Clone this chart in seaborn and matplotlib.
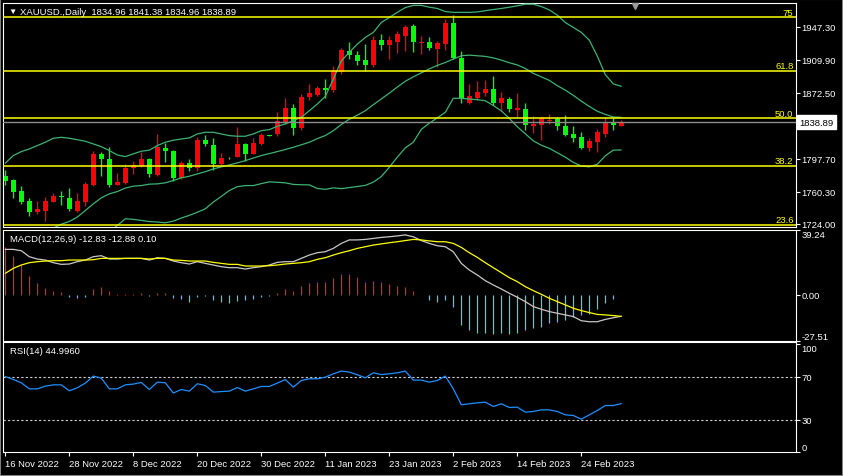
import numpy as np
import pandas as pd
import matplotlib
matplotlib.use("Agg")
import matplotlib.pyplot as plt
from matplotlib.patches import Rectangle
import seaborn as sns

# daily bars 16 Nov 2022 .. 3 Mar 2023
dates = pd.bdate_range("2022-11-16", periods=78)

open_ = [1778.0, 1773.8, 1761.0, 1750.0, 1736.8, 1739.0, 1749.2, 1755.7, 1753.4, 1739.0,
         1749.2, 1768.1, 1803.2, 1797.5, 1768.1, 1770.7, 1786.9, 1789.3, 1797.5, 1779.4,
         1809.6, 1806.6, 1776.0, 1793.0, 1787.3, 1819.0, 1813.7, 1791.9, 1798.6, 1800.1,
         1814.5, 1803.2, 1814.5, 1824.0, 1825.8, 1839.0, 1855.2, 1832.6, 1867.3, 1869.9,
         1877.5, 1875.6, 1895.6, 1919.3, 1915.1, 1909.5, 1904.2, 1932.1, 1926.8, 1930.2,
         1937.0, 1947.6, 1929.0, 1929.5, 1921.9, 1927.6, 1951.3, 1911.7, 1860.9, 1866.2,
         1872.5, 1876.7, 1860.9, 1865.4, 1853.3, 1854.1, 1834.8, 1836.0, 1840.8, 1842.8,
         1834.8, 1825.8, 1822.0, 1810.0, 1817.1, 1825.8, 1838.6, 1834.96]
high = [1785.0, 1774.5, 1767.3, 1753.4, 1750.0, 1754.5, 1758.7, 1761.7, 1764.7, 1759.4,
        1771.1, 1806.2, 1805.8, 1810.7, 1781.7, 1791.5, 1795.6, 1805.1, 1799.0, 1825.8,
        1815.6, 1807.3, 1795.3, 1797.5, 1822.0, 1824.7, 1820.9, 1804.3, 1800.0, 1834.0,
        1815.6, 1820.9, 1826.9, 1824.6, 1851.0, 1866.5, 1859.7, 1871.0, 1882.3, 1880.4,
        1888.0, 1903.0, 1922.7, 1930.0, 1920.0, 1927.6, 1937.0, 1938.9, 1936.3, 1942.7,
        1949.1, 1950.2, 1936.3, 1935.2, 1931.3, 1955.9, 1960.4, 1919.3, 1882.3, 1885.7,
        1886.9, 1891.0, 1873.0, 1868.0, 1872.2, 1860.5, 1846.5, 1844.7, 1848.4, 1844.7,
        1847.3, 1834.5, 1827.7, 1821.3, 1831.4, 1844.7, 1844.7, 1841.38]
low = [1768.0, 1753.7, 1746.6, 1732.7, 1735.3, 1726.6, 1748.5, 1745.5, 1739.0, 1737.2,
       1744.7, 1766.6, 1778.6, 1765.4, 1767.4, 1769.0, 1780.5, 1788.0, 1777.5, 1778.6,
       1794.5, 1772.3, 1774.9, 1784.3, 1784.3, 1811.9, 1785.0, 1790.7, 1797.5, 1799.4,
       1795.6, 1802.8, 1813.7, 1823.2, 1823.9, 1837.1, 1825.0, 1830.7, 1864.6, 1868.4,
       1866.5, 1873.6, 1893.7, 1910.6, 1903.8, 1897.4, 1901.2, 1921.2, 1910.6, 1917.4,
       1920.0, 1918.9, 1916.3, 1921.2, 1901.2, 1921.2, 1910.6, 1860.9, 1860.1, 1864.6,
       1869.1, 1858.6, 1852.1, 1851.0, 1844.7, 1830.7, 1826.9, 1819.0, 1837.1, 1830.3,
       1823.5, 1816.4, 1808.8, 1806.6, 1805.1, 1822.7, 1830.7, 1834.96]
close = [1773.0, 1760.5, 1749.2, 1737.9, 1741.0, 1750.0, 1755.3, 1753.8, 1741.3, 1750.0,
         1769.2, 1803.2, 1797.5, 1768.1, 1771.5, 1787.3, 1790.7, 1797.5, 1780.5, 1811.1,
         1806.6, 1776.0, 1793.0, 1787.3, 1819.0, 1814.5, 1791.9, 1798.6, 1798.0, 1814.5,
         1803.2, 1815.6, 1825.0, 1823.4, 1840.8, 1855.2, 1832.6, 1868.0, 1872.2, 1877.5,
         1875.6, 1897.4, 1920.8, 1915.5, 1908.7, 1904.2, 1932.1, 1926.8, 1932.1, 1938.9,
         1946.5, 1929.5, 1929.6, 1923.0, 1928.7, 1951.3, 1911.7, 1866.2, 1868.8, 1873.3,
         1877.0, 1860.9, 1866.5, 1854.1, 1855.6, 1836.0, 1837.1, 1843.5, 1842.0, 1834.8,
         1824.7, 1821.3, 1810.0, 1817.9, 1827.7, 1838.6, 1836.3, 1838.89]

bb_upper = [1792.7, 1801.3, 1805.8, 1808.8, 1812.6, 1816.4, 1820.9, 1822.0, 1820.9, 1819.3,
            1817.5, 1814.5, 1811.4, 1806.9, 1802.0, 1800.1, 1803.2, 1806.2, 1807.4, 1812.6,
            1816.4, 1818.7, 1820.1, 1821.3, 1825.8, 1827.7, 1827.7, 1825.8, 1823.9, 1823.2,
            1823.2, 1825.8, 1829.5, 1830.7, 1834.5, 1837.1, 1840.8, 1844.7, 1852.1, 1859.7,
            1868.4, 1888.0, 1908.7, 1918.2, 1927.6, 1935.2, 1940.9, 1952.1, 1957.8, 1963.6,
            1969.0, 1971.5, 1971.5, 1969.5, 1968.0, 1964.5, 1963.6, 1963.6, 1963.6, 1964.1,
            1965.5, 1966.8, 1968.0, 1969.4, 1971.0, 1972.8, 1972.8, 1970.2, 1966.4, 1960.4,
            1952.1, 1946.5, 1940.9, 1932.0, 1914.0, 1893.0, 1882.5, 1879.8]
bb_mid = [1690.0, 1696.0, 1702.0, 1707.0, 1711.0, 1715.0, 1719.0, 1723.5, 1726.6, 1731.6,
          1739.0, 1746.6, 1753.4, 1757.9, 1760.5, 1764.4, 1766.6, 1767.3, 1768.9, 1769.2,
          1770.4, 1773.0, 1776.0, 1777.9, 1780.5, 1783.0, 1786.2, 1788.5, 1790.7, 1793.0,
          1795.6, 1798.5, 1801.3, 1803.5, 1805.8, 1808.2, 1810.7, 1813.5, 1816.4, 1820.5,
          1824.0, 1829.5, 1836.5, 1842.5, 1847.0, 1852.1, 1859.0, 1865.5, 1872.0, 1879.0,
          1885.5, 1890.5, 1895.0, 1899.5, 1903.5, 1906.8, 1910.6, 1914.4, 1915.1, 1914.4,
          1913.7, 1912.0, 1909.5, 1906.5, 1904.0, 1900.0, 1894.5, 1890.5, 1886.5, 1880.5,
          1875.5, 1869.5, 1863.0, 1857.0, 1851.5, 1848.0, 1845.0, 1844.6]
bb_lower = [1590.0, 1592.0, 1596.0, 1600.0, 1605.0, 1610.0, 1616.0, 1625.0, 1640.0, 1655.0,
            1672.0, 1690.0, 1704.0, 1715.0, 1722.0, 1729.7, 1729.0, 1727.8, 1726.5, 1726.0,
            1725.1, 1727.0, 1730.5, 1733.5, 1737.0, 1741.0, 1748.6, 1755.0, 1761.7, 1766.0,
            1767.3, 1767.3, 1769.5, 1771.5, 1771.0, 1770.4, 1768.6, 1768.2, 1768.1, 1764.0,
            1763.0, 1764.7, 1763.8, 1765.0, 1766.2, 1767.5, 1771.2, 1777.5, 1788.0, 1799.5,
            1810.0, 1816.4, 1831.0, 1838.0, 1844.0, 1850.3, 1866.2, 1866.2, 1865.4, 1864.6,
            1863.4, 1858.0, 1852.0, 1843.5, 1834.0, 1826.0, 1818.0, 1813.0, 1809.5, 1804.5,
            1799.5, 1793.5, 1789.5, 1788.5, 1791.5, 1801.0, 1807.5, 1807.6]

macd_main = [27.4, 27.4, 26.6, 23.0, 21.6, 21.0, 19.4, 18.4, 18.6, 20.0,
             21.0, 23.0, 23.6, 21.6, 21.6, 22.0, 22.0, 22.0, 21.0, 22.4,
             22.0, 20.4, 19.4, 18.6, 20.0, 19.0, 18.0, 17.0, 16.4, 16.4,
             15.6, 16.4, 17.0, 18.0, 19.6, 20.0, 20.0, 22.0, 24.0, 25.4,
             26.0, 28.0, 31.0, 33.1, 33.1, 33.4, 34.0, 34.6, 35.0, 35.5,
             36.1, 35.0, 32.7, 31.0, 29.6, 29.0, 26.0, 19.0, 15.0, 12.0,
             8.6, 6.0, 3.6, 1.0, -1.4, -4.0, -7.0, -8.6, -10.0, -11.0,
             -12.0, -13.0, -15.5, -16.1, -16.1, -14.7, -13.7, -12.83]
macd_signal = [13.0, 16.0, 18.0, 19.4, 20.0, 20.4, 20.6, 20.6, 21.0, 21.0,
               21.0, 21.2, 22.0, 22.0, 22.0, 22.0, 22.0, 22.0, 21.6, 22.0,
               22.0, 21.0, 20.8, 20.4, 20.4, 20.4, 19.6, 19.0, 18.4, 18.4,
               17.4, 17.4, 17.4, 17.6, 18.0, 18.6, 19.0, 19.4, 20.0, 21.4,
               22.4, 24.0, 25.4, 26.6, 28.0, 29.0, 30.0, 30.7, 31.4, 32.0,
               32.7, 33.4, 33.1, 32.5, 32.0, 32.0, 31.0, 28.6, 25.4, 22.6,
               19.4, 16.4, 13.4, 10.4, 8.0, 5.0, 2.6, 0.4, -2.0, -4.0,
               -6.0, -8.0, -9.4, -10.6, -11.7, -12.0, -12.4, -12.88]
macd_hist = [28.6, 23.6, 18.0, 11.6, 7.0, 4.4, 2.6, 1.6, -1.0, -2.0,
             -1.0, 3.4, 5.0, 2.4, 0.4, 0.4, 0.4, 1.0, -0.4, 1.0,
             1.2, -2.0, -2.4, -4.4, -1.4, -0.4, -3.2, -4.0, -4.6, -3.4,
             -3.2, -2.6, -1.0, -0.4, 1.0, 3.8, 2.6, 5.6, 7.4, 8.0,
             8.0, 10.0, 12.8, 12.8, 11.0, 8.0, 8.6, 7.8, 6.4, 5.6,
             5.0, 2.4, -0.2, -3.0, -4.0, -3.0, -7.4, -18.0, -21.0, -22.7,
             -23.1, -23.7, -23.1, -23.5, -22.7, -21.0, -20.1, -19.1, -17.1, -16.1,
             -15.1, -13.4, -12.0, -11.4, -8.6, -4.6, -2.4, 0.10]

rsi = [70.0, 67.2, 64.2, 58.6, 58.6, 61.1, 62.3, 62.3, 56.8, 59.6,
       63.9, 70.4, 68.5, 58.6, 58.6, 62.3, 63.0, 64.5, 58.0, 64.8,
       64.2, 54.7, 58.0, 56.5, 63.3, 61.7, 55.6, 56.1, 56.5, 59.8,
       56.5, 58.6, 60.8, 60.8, 63.9, 67.2, 60.2, 66.3, 67.9, 67.9,
       69.4, 72.5, 75.0, 74.1, 71.6, 68.8, 73.4, 71.8, 72.5, 73.4,
       75.0, 66.7, 66.7, 64.8, 66.3, 70.4, 58.6, 43.9, 44.8, 45.7,
       46.3, 42.3, 44.8, 41.4, 41.7, 37.1, 37.7, 39.2, 39.2, 37.7,
       34.6, 34.0, 30.6, 34.6, 38.6, 43.2, 43.2, 45.0]

fib_pct = ["23.6", "38.2", "50.0", "61.8", "75"]
fib_price = [1722.9, 1789.5, 1843.5, 1897.3, 1957.8]
price_ticks = [1724.00, 1760.30, 1797.70, 1872.50, 1909.90, 1947.30]
last_price = 1838.89
header = "XAUUSD.,Daily  1834.96 1841.38 1834.96 1838.89"
macd_title = "MACD(12,26,9) -12.83 -12.88 0.10"
rsi_title = "RSI(14) 44.9960"

sns.set_theme(style="dark", rc={"axes.facecolor": "black", "figure.facecolor": "black"})
plt.rcParams["font.family"] = ["Liberation Sans", "DejaVu Sans"]
FS = 6.8
TXT = "white"

df = pd.DataFrame({"x": np.arange(len(dates)), "open": open_, "high": high, "low": low,
                   "close": close, "up": bb_upper, "mid": bb_mid, "lo": bb_lower,
                   "macd": macd_main, "signal": macd_signal, "hist": macd_hist, "rsi": rsi})

W, H = 843, 477
fig = plt.figure(figsize=(W / 100, H / 100), dpi=100)
fig.patch.set_facecolor("black")


def box(top, bottom, left=3.5, right=795.5):
    return [left / W, 1 - bottom / H, (right - left) / W, (bottom - top) / H]


ax1 = fig.add_axes(box(4, 228.3))
ax2 = fig.add_axes(box(230.7, 341.7))
ax3 = fig.add_axes(box(343.3, 453.3))

for ax in (ax1, ax2, ax3):
    ax.set_facecolor("black")
    ax.set_xlim(-0.225, 98.775)
    ax.grid(False)
    for s in ax.spines.values():
        s.set_color("white")
        s.set_linewidth(0.8)
    ax.yaxis.tick_right()
    ax.tick_params(axis="y", colors=TXT, labelsize=FS, length=3, width=0.8,
                   direction="out", pad=1.5, left=False, right=True)
    ax.tick_params(axis="x", bottom=False, labelbottom=False)

# ---- price panel
ax1.set_ylim(1720.0, 1974.2)
bull = df["close"] >= df["open"]
cols = np.where(bull, "#ff0000", "#00ff00")
ax1.vlines(df["x"], df["low"], df["high"], colors=cols, lw=1.0, zorder=2)
body = np.maximum((df["close"] - df["open"]).abs(), 0.9)
ax1.bar(df["x"], body, bottom=np.minimum(df["open"], df["close"]), width=0.62,
        color=cols, linewidth=0, zorder=2)
for col in ("up", "mid", "lo"):
    sns.lineplot(data=df, x="x", y=col, ax=ax1, color="#3cb371", lw=0.9, legend=False, zorder=3)
ax1.set_xlabel("")
ax1.set_ylabel("")
for pct, lvl in zip(fib_pct, fib_price):
    ax1.axhline(lvl, color="#ffff00", lw=1.1, zorder=4)
    ax1.annotate(pct, xy=(1, lvl), xycoords=("axes fraction", "data"), xytext=(-2, 2.5),
                 textcoords="offset pixels", ha="right", va="baseline", color="#ffff00",
                 fontsize=FS, zorder=5)
ax1.axhline(last_price, color="#8c8c8c", lw=1.0, zorder=4)
ax1.set_yticks(price_ticks)
ax1.set_yticklabels([f"{v:.2f}" for v in price_ticks])
ax1.annotate(f"{last_price:.2f}", xy=(1, last_price), xycoords=("axes fraction", "data"),
             xytext=(4, 0), textcoords="offset pixels", ha="left", va="center",
             color="black", fontsize=FS, annotation_clip=False,
             bbox=dict(boxstyle="square,pad=0.26", fc="white", ec="white"))
ax1.plot([0.797], [0.986], marker="v", ms=5, color="#9a9a9a", transform=ax1.transAxes,
         clip_on=False, zorder=6)
fig.text(8 / W, 1 - 12.5 / H, "▼", fontsize=6, color=TXT, va="center", ha="left")
fig.text(20 / W, 1 - 12.5 / H, header, fontsize=FS, color=TXT, va="center", ha="left")

# ---- MACD panel
ax2.set_ylim(-27.51, 39.24)
hcols = np.where(df["hist"] >= 0, "#ff1a1a", "#35d6e8")
ax2.vlines(df["x"], 0, df["hist"], colors=hcols, lw=0.9, zorder=2)
sns.lineplot(data=df, x="x", y="macd", ax=ax2, color="#c8c8c8", lw=0.9, legend=False, zorder=3)
sns.lineplot(data=df, x="x", y="signal", ax=ax2, color="#ffff00", lw=0.9, legend=False, zorder=3)
ax2.set_xlabel("")
ax2.set_ylabel("")
ax2.set_yticks([-27.51, 0.0, 39.24])
ax2.set_yticklabels(["-27.51", "0.00", "39.24"])
lab = ax2.get_yticklabels()
lab[0].set_va("bottom")
lab[2].set_va("top")
ax2.text(6 / 792, 1 - 8.5 / 111, macd_title, transform=ax2.transAxes, fontsize=FS,
         color=TXT, va="center", ha="left")

# ---- RSI panel
ax3.set_ylim(0, 101.6)
sns.lineplot(data=df, x="x", y="rsi", ax=ax3, color="#1e90ff", lw=0.9, legend=False, zorder=3)
ax3.set_xlabel("")
ax3.set_ylabel("")
for lvl in (70, 30):
    ax3.axhline(lvl, color="#d0d0d0", lw=0.8, ls=(0, (2, 2)), zorder=1)
ax3.set_yticks([0, 30, 70, 100])
ax3.set_yticklabels(["0", "30", "70", "100"])
lab = ax3.get_yticklabels()
lab[0].set_va("bottom")
lab[3].set_va("top")
ax3.text(6 / 792, 1 - 8.5 / 110, rsi_title, transform=ax3.transAxes, fontsize=FS,
         color=TXT, va="center", ha="left")
xt = np.arange(0, len(dates), 8)
ax3.set_xticks(xt)
ax3.set_xticklabels([f"{dates[i].day} {dates[i]:%b %Y}" for i in xt], ha="left")
ax3.tick_params(axis="x", bottom=True, labelbottom=True, colors=TXT, labelsize=FS,
                length=3, width=0.8, direction="out", pad=1.5)

fig.add_artist(Rectangle((0, 0), 1, 1, transform=fig.transFigure, fill=False,
                         ec="#808080", lw=1.5))

fig.savefig("out.png", dpi=100, facecolor="black")
